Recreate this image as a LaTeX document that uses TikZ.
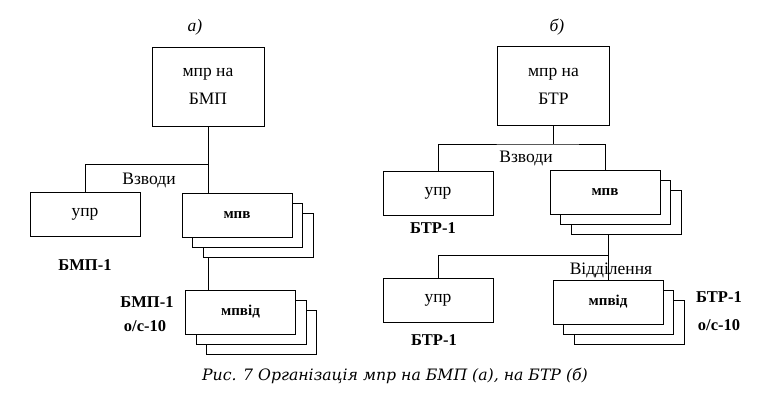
\documentclass[tikz,border=0pt]{standalone}
\usepackage{fontspec}
\setmainfont{Liberation Serif}
\newfontfamily\capfont{DejaVu Serif}
\tikzset{
  box/.style={draw, fill=white, minimum width=110pt, minimum height=44pt, inner sep=0pt},
  topbox/.style={draw, minimum width=112pt, minimum height=79pt, align=center,
    font=\fontsize{17.5}{28}\selectfont},
  lbl/.style={inner sep=0pt, font=\fontsize{17.5}{21}\selectfont},
  blbl/.style={inner sep=0pt, font=\fontsize{16.5}{20}\selectfont\bfseries},
  sub/.style={font=\fontsize{15}{18}\selectfont\bfseries}
}
\begin{document}
\begin{tikzpicture}[x=1pt, y=-1pt, line width=0.8pt]
  \useasboundingbox (0,0) rectangle (761,405);
  % a)
  \node[lbl] (titA) at (195,27) {\itshape а)};
  \node[topbox] (topA) at (208,86.5) {мпр на\\БМП};
  \node[box, lbl] (uprA) at (85,214) {упр};
  \node[box] (mpvA3) at (258,235) {};
  \node[box] (mpvA2) at (247.5,225) {};
  \node[box, sub] (mpvA) at (237,215) {мпв};
  \node[box] (mpvidA3) at (261.5,332.5) {};
  \node[box] (mpvidA2) at (251,322) {};
  \node[box, sub] (mpvidA) at (240.5,312) {мпвід};
  \coordinate (hubA) at (208,164);
  \draw (topA.south) -- (hubA) -| (uprA.north);
  \draw (hubA) -- (hubA |- mpvA.north);
  \draw (hubA |- mpvA3.south) -- (hubA |- mpvidA.north);
  \node[lbl] (vzvA) at (149,180) {Взводи};
  \node[blbl] (bmpA) at (85,265) {БМП-1};
  \node[blbl] (bmpB) at (147,302) {БМП-1};
  \node[blbl] (osA) at (145,326) {о/с-10};
  % b)
  \node[lbl] (titB) at (557,27) {\itshape б)};
  \node[topbox] (topB) at (553.5,86) {мпр на\\БТР};
  \node[box, lbl] (uprB1) at (438,193) {упр};
  \node[box] (mpvB3) at (626.5,212) {};
  \node[box] (mpvB2) at (615.5,202) {};
  \node[box, sub] (mpvB) at (605,192.5) {мпв};
  \node[box, lbl] (uprB2) at (438,300) {упр};
  \node[box] (mpvidB3) at (629,322) {};
  \node[box] (mpvidB2) at (618.5,312) {};
  \node[box, sub] (mpvidB) at (608,302) {мпвід};
  \coordinate (hubB) at (553.5,144);
  \coordinate (hubC) at (608,255);
  \draw (topB.south) -- (hubB);
  \draw (uprB1.north) |- (hubB) -| (mpvB.north);
  \draw (hubC |- mpvB3.south) -- (mpvidB.north);
  \draw (hubC) -| (uprB2.north);
  \node[lbl] (vzvB) at (526,158) {Взводи};
  \node[lbl] (viddB) at (611,270) {Відділення};
  \node[blbl] (btrA) at (433,228) {БТР-1};
  \node[blbl] (btrB) at (719,297) {БТР-1};
  \node[blbl] (osB) at (719,325) {о/с-10};
  \node[blbl] (btrC) at (434,340) {БТР-1};
  % caption
  \node[inner sep=0pt, font=\capfont\fontsize{15.7}{18}\selectfont\itshape] (cap) at (395,376)
    {Рис. 7 Організація мпр на БМП (а), на БТР (б)};
\end{tikzpicture}
\end{document}
